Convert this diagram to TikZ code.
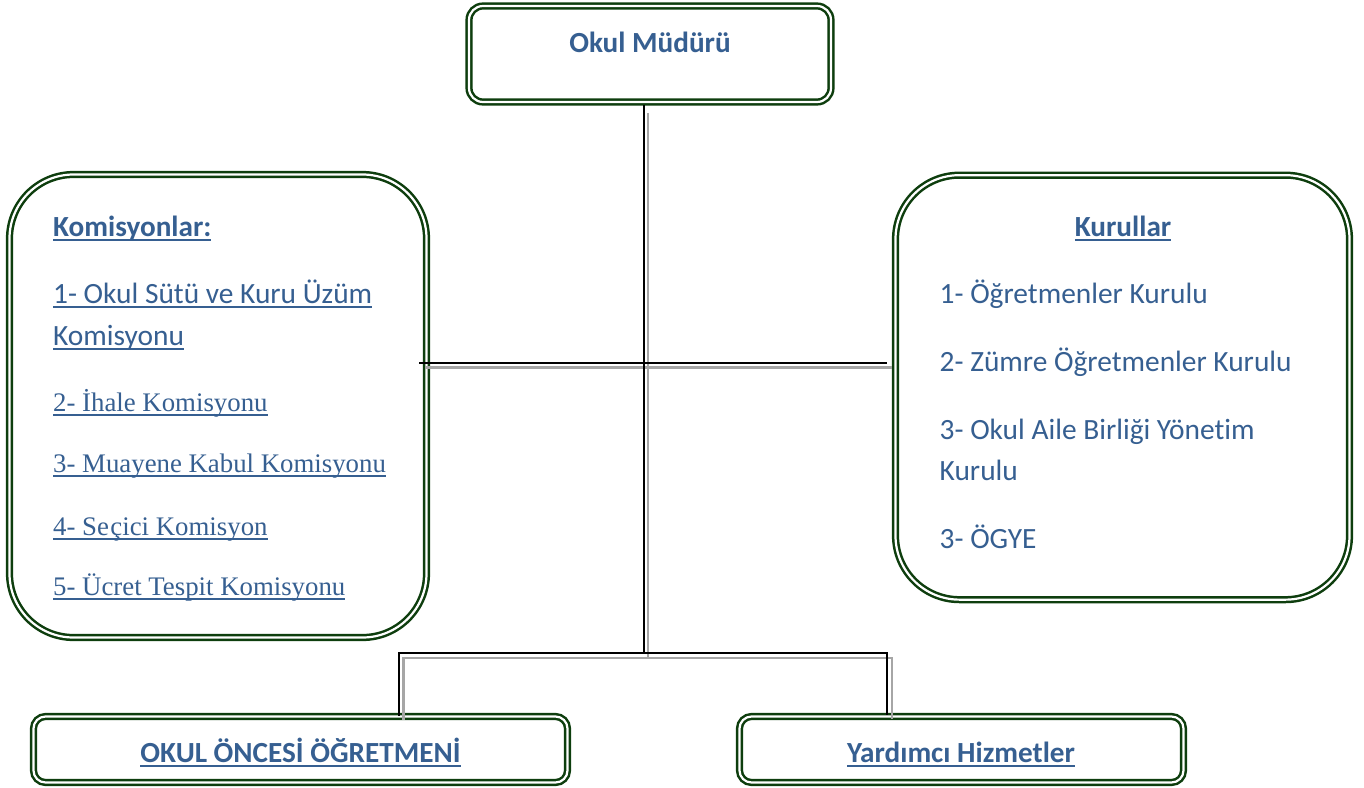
\documentclass[tikz,border=0pt]{standalone}
\usepackage{fontspec}
\setmainfont{Carlito}[Ligatures=NoCommon]
\newfontfamily\tnr{Liberation Serif}
\definecolor{txt}{RGB}{54,95,145}
\definecolor{bgreen}{RGB}{14,62,14}
\definecolor{shd}{RGB}{166,166,166}
\newlength\ulwd
\newcommand\myul[3]{\settowidth\ulwd{#3}\rlap{\rule[-#1]{\ulwd}{#2}}#3}
\tikzset{
  box/.style={draw=bgreen, double=white, line width=2.5pt, double distance=2.2pt, fill=white, inner sep=0pt, rectangle},
  lbl/.style={inner sep=0pt, text=txt, font=\fontsize{29.4}{35}\selectfont},
  lblb/.style={inner sep=0pt, text=txt, font=\bfseries\fontsize{29.2}{35}\selectfont},
  tms/.style={inner sep=0pt, text=txt, font=\tnr\fontsize{26.8}{32}\selectfont},
  blk/.style={draw=black, line width=2pt},
  gry/.style={draw=shd, line width=2.6pt},
}
\begin{document}
\begin{tikzpicture}[x=1pt,y=-1pt]
\useasboundingbox (0,0) rectangle (1364,787);
% boxes
\node[box, rounded corners=14pt, minimum width=362pt, minimum height=96pt] (mud) at (650,54) {};
\node[box, rounded corners=64pt, minimum width=417pt, minimum height=463pt] (kom) at (218,406) {};
\node[box, rounded corners=64pt, minimum width=454pt, minimum height=424.5pt] (kur) at (1122.5,387.4) {};
\node[box, rounded corners=12pt, minimum width=534pt, minimum height=66pt] (oo) at (300.5,749.5) {};
\node[box, rounded corners=12pt, minimum width=444pt, minimum height=66pt] (yh) at (961.5,749.5) {};
% texts
\node[lblb, anchor=base] (mudt) at (650,52) {Okul Müdürü};
\node[lblb, anchor=base west] (komt) at (53,236.7) {\myul{4.5pt}{1.8pt}{Komisyonlar:}};
\node[lbl, anchor=base west] (k1a) at (53,303) {\myul{4.5pt}{1.6pt}{1- Okul Sütü ve Kuru Üzüm}};
\node[lbl, anchor=base west] (k1b) at (53,345) {\myul{4.5pt}{1.6pt}{Komisyonu}};
\node[tms, anchor=base west] (k2) at (53,411) {\myul{4.5pt}{1.6pt}{2- İhale Komisyonu}};
\node[tms, anchor=base west] (k3) at (53,472) {\myul{4.5pt}{1.6pt}{3- Muayene Kabul Komisyonu}};
\node[tms, anchor=base west] (k4) at (53,535) {\myul{4.5pt}{1.6pt}{4- Se\hspace{1.5pt}çici Komisyon}};
\node[tms, anchor=base west] (k5) at (53,595) {\myul{4.5pt}{1.6pt}{5- Ücret Tespit Komisyonu}};
\node[lblb, anchor=base] (kurt) at (1123,236.7) {\myul{4.5pt}{1.8pt}{Kurullar}};
\node[lbl, anchor=base west] (r1) at (939.5,303.3) {1- Öğretmenler Kurulu};
\node[lbl, anchor=base west] (r2) at (939.5,371.7) {2- Zümre Öğretmenler Kurulu};
\node[lbl, anchor=base west] (r3a) at (939.5,439.3) {3- Okul Aile Birliği Yönetim};
\node[lbl, anchor=base west] (r3b) at (939.5,480) {Kurulu};
\node[lbl, anchor=base west] (r4) at (939.5,548.3) {3- ÖGYE};
\node[lblb, anchor=base] (oot) at (300.5,762) {\myul{4.5pt}{1.8pt}{OKUL ÖNCESİ ÖĞRETMENİ}};
\node[lblb, anchor=base] (yht) at (961,762) {\myul{4.5pt}{1.8pt}{Yardımcı Hizmetler}};
% connector points
\coordinate (bt) at (643.5,105);
\coordinate (bm) at (643.5,653);
\coordinate (bl) at (419,362.7);
\coordinate (br) at (887,362.7);
\coordinate (bla) at (398.5,653);
\coordinate (blb) at (398.5,715.5);
\coordinate (bra) at (887,653);
\coordinate (brb) at (887,714.5);
\coordinate (gt) at (648,113);
\coordinate (gm) at (648,658);
\coordinate (gl) at (425,367.5);
\coordinate (gr) at (892,367.5);
\coordinate (gla) at (403.3,658);
\coordinate (glb) at (403.3,720);
\coordinate (gra) at (892,658);
\coordinate (grb) at (892,719);
% shadow lines
\draw[gry] (gt) -- (gm);
\draw[gry] (gl) -- (gr);
\draw[gry] (glb) -- (gla) -- (gra) -- (grb);
% black lines
\draw[blk] (bt) -- (bm);
\draw[blk] (bl) -- (br);
\draw[blk] (blb) -- (bla) -- (bra) -- (brb);
\end{tikzpicture}
\end{document}
